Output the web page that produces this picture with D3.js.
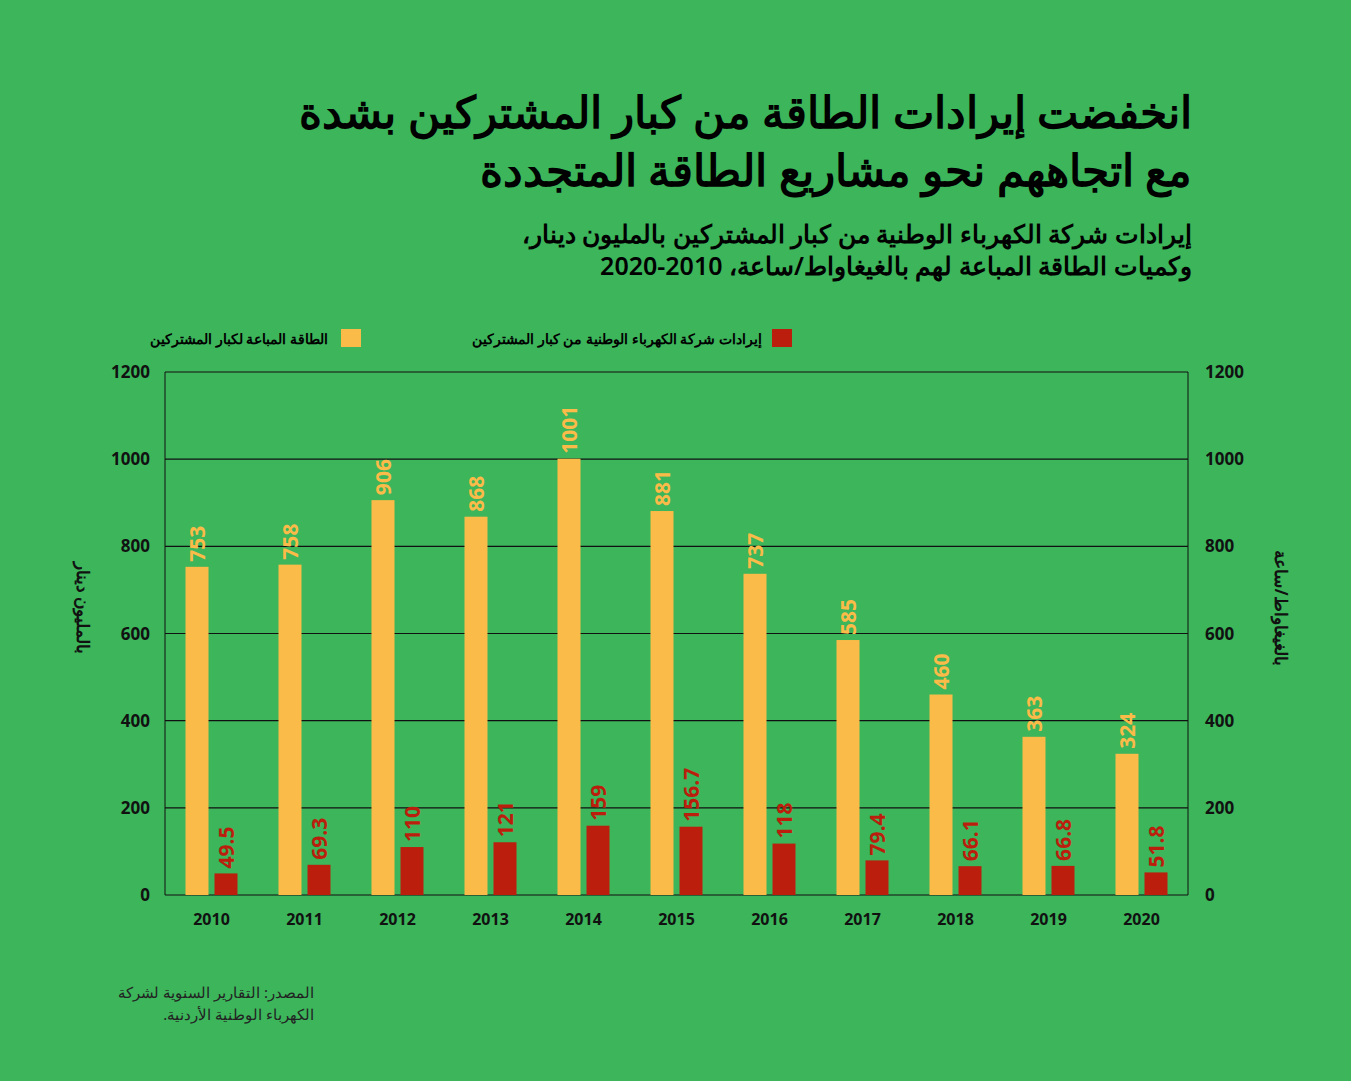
<!DOCTYPE html>
<html><head><meta charset="utf-8">
<script src="https://cdn.jsdelivr.net/npm/d3@7"></script>
<style>body{margin:0;background:#3cb55b;} svg{display:block;font-family:"Noto Sans",sans-serif;}</style>
</head><body><div id="svg-area"></div>
<script>
const years = ["2010","2011","2012","2013","2014","2015","2016","2017","2018","2019","2020"]
const energy = [753, 758, 906, 868, 1001, 881, 737, 585, 460, 363, 324]
const revenue = [49.5, 69.3, 110, 121, 159, 156.7, 118, 79.4, 66.1, 66.8, 51.8]
const ticks = [0, 200, 400, 600, 800, 1000, 1200]

const yellow = "#fbbb48", red = "#bb1e0c"
const W = 1351, H = 1081
const plotLeft = 165, plotRight = 1188, plotTop = 372, plotBottom = 895

let svg = d3.select("#svg-area").append("svg").attr("width", W).attr("height", H)
svg.append("rect").attr("width", W).attr("height", H).attr("fill", "#3cb55b")

const x = d3.scaleBand().domain(years).range([plotLeft, plotRight]).paddingInner(0).paddingOuter(0.0)
const y = d3.scaleLinear().domain([0, 1200]).range([plotBottom, plotTop])

// titles
const rtl = (sel) => sel.attr("direction", "rtl").attr("text-anchor", "start")
svg.append("text").attr("x", 1192).attr("y", 128).attr("font-size", 44).attr("font-weight", 800).call(rtl)
  .text("انخفضت إيرادات الطاقة من كبار المشتركين بشدة")
svg.append("text").attr("x", 1192).attr("y", 186).attr("font-size", 44).attr("font-weight", 800).call(rtl)
  .text("مع اتجاههم نحو مشاريع الطاقة المتجددة")
svg.append("text").attr("x", 1192).attr("y", 243).attr("font-size", 25).attr("font-weight", 600).call(rtl)
  .text("إيرادات شركة الكهرباء الوطنية من كبار المشتركين بالمليون دينار،")
svg.append("text").attr("x", 1192).attr("y", 275).attr("font-size", 25).attr("font-weight", 600).call(rtl)
  .text("وكميات الطاقة المباعة لهم بالغيغاواط/ساعة، 2010-2020")

// legend
svg.append("rect").attr("x", 772).attr("y", 329).attr("width", 20).attr("height", 18).attr("fill", red)
svg.append("text").attr("x", 762).attr("y", 344).attr("font-size", 14).attr("font-weight", 700).call(rtl)
  .text("إيرادات شركة الكهرباء الوطنية من كبار المشتركين")
svg.append("rect").attr("x", 341).attr("y", 329).attr("width", 20).attr("height", 18).attr("fill", yellow)
svg.append("text").attr("x", 328).attr("y", 344).attr("font-size", 14).attr("font-weight", 700).call(rtl)
  .text("الطاقة المباعة لكبار المشتركين")

// grid
svg.selectAll(".grid").data(ticks).enter().append("line")
  .attr("x1", plotLeft).attr("x2", plotRight).attr("y1", d => y(d)).attr("y2", d => y(d))
  .attr("stroke", "#111").attr("stroke-width", 1.2)
svg.append("line").attr("x1", plotLeft).attr("x2", plotLeft).attr("y1", plotTop).attr("y2", plotBottom).attr("stroke", "#111")
svg.append("line").attr("x1", plotRight).attr("x2", plotRight).attr("y1", plotTop).attr("y2", plotBottom).attr("stroke", "#111")

svg.selectAll(".tl").data(ticks).enter().append("text")
  .attr("x", 150).attr("y", d => y(d) + 6).attr("text-anchor", "end")
  .attr("font-size", 17).attr("font-weight", 700).attr("fill", "#111").text(d => d)
svg.selectAll(".tr").data(ticks).enter().append("text")
  .attr("x", 1205).attr("y", d => y(d) + 6).attr("text-anchor", "start")
  .attr("font-size", 17).attr("font-weight", 700).attr("fill", "#111").text(d => d)

svg.selectAll(".xl").data(years).enter().append("text")
  .attr("x", d => x(d) + x.bandwidth() / 2).attr("y", 925).attr("text-anchor", "middle")
  .attr("font-size", 16).attr("font-weight", 700).attr("fill", "#111").text(d => d)

// axis titles
svg.append("text").attr("transform", "translate(77,608) rotate(90)").attr("text-anchor", "middle")
  .attr("direction", "rtl").attr("font-size", 17).attr("font-weight", 700).attr("fill", "#111").text("بالمليون دينار")
svg.append("text").attr("transform", "translate(1275,608) rotate(90)").attr("text-anchor", "middle")
  .attr("direction", "rtl").attr("font-size", 17).attr("font-weight", 700).attr("fill", "#111").text("بالغيغاواط/ساعة")

const bw = 23
const cx = d => x(d) + x.bandwidth() / 2

svg.selectAll(".ey").data(energy).enter().append("rect")
  .attr("x", (d, i) => cx(years[i]) - bw - 3).attr("y", d => y(d))
  .attr("width", bw).attr("height", d => plotBottom - y(d)).attr("fill", yellow)
svg.selectAll(".rv").data(revenue).enter().append("rect")
  .attr("x", (d, i) => cx(years[i]) + 3).attr("y", d => y(d))
  .attr("width", bw).attr("height", d => plotBottom - y(d)).attr("fill", red)

const lab = (data, dx, color) => svg.selectAll(null).data(data).enter().append("text")
  .attr("transform", (d, i) => `translate(${cx(years[i]) + dx},${y(d) - 5}) rotate(-90)`)
  .attr("font-size", 21).attr("font-weight", 700).attr("fill", color).text(d => d)
lab(energy, -bw / 2 - 3 + 8, yellow)
lab(revenue, bw / 2 + 3 + 8, red)

// source
svg.append("text").attr("x", 314).attr("y", 998).attr("font-size", 15).attr("fill", "#222").call(rtl)
  .text("المصدر: التقارير السنوية لشركة")
svg.append("text").attr("x", 314).attr("y", 1020).attr("font-size", 15).attr("fill", "#222").call(rtl)
  .text("الكهرباء الوطنية الأردنية.")
</script></body></html>
